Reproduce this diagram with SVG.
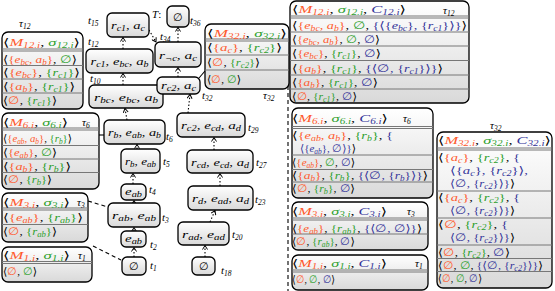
<svg xmlns="http://www.w3.org/2000/svg" width="555" height="291" viewBox="0 0 555 291">
<style>
.t{font-family:"Liberation Serif","DejaVu Serif",serif;font-size:11px;fill:#000}
.i{font-style:italic}
.s{font-size:7.5px;font-style:italic;baseline-shift:-2px}
.o{fill:#ff5a2d}.g{fill:#2ca02c}.b{fill:#333399}
.bx{fill:url(#gf);stroke:#000;stroke-width:1.3}
.nd{fill:url(#gf);stroke:#000;stroke-width:1.3}
.sp{stroke:#777;stroke-width:1}
.c{fill:none;stroke:#000;stroke-width:1.1;stroke-dasharray:1.5 2;marker-end:url(#ah)}
.d{fill:none;stroke:#000;stroke-width:1.1;stroke-dasharray:4 3}
</style>
<defs>
<linearGradient id="gf" x1="0" y1="0" x2="0" y2="1"><stop offset="0" stop-color="#ffffff"/><stop offset="1" stop-color="#d9d9d9"/></linearGradient>
<marker id="ah" markerUnits="userSpaceOnUse" markerWidth="6" markerHeight="6" refX="5" refY="3" orient="auto"><path d="M1,0.5 L5,3 L1,5.5" fill="none" stroke="#000" stroke-width="1"/></marker>
</defs>

<g id="connectors">
<path class="c" d="M134,257 L134,247.5"/>
<path class="c" d="M134,231 L134,227.5"/>
<path class="c" d="M134,203 L134,200.5"/>
<path class="c" d="M133,184 L133,173.5"/>
<path class="c" d="M137,149 L137,144.5"/>
<path class="c" d="M127,120 L125,108.5"/>
<path class="c" d="M123,85 L123,73.5"/>
<path class="c" d="M123,49 L123,37.5"/>
<path class="c" d="M149,30 L156,42"/>
<path class="c" d="M178,42 L178,27.5"/>
<path class="c" d="M178,77 L178,67.5"/>
<path class="c" d="M188,113 L190,94.5"/>
<path class="c" d="M214,150 L214,137.5"/>
<path class="c" d="M220,186 L220,173.5"/>
<path class="c" d="M210,222 L215,210.5"/>
<path class="c" d="M205,257 L205,245.5"/>
<path class="d" d="M88,201 L108,207"/>
<path class="d" d="M93,246 L121,260"/>
<path d="M99,135 L104,135" stroke="#000" stroke-width="1.1"/>
<path d="M205,71 L199,78" stroke="#000" stroke-width="1.1"/>
<path class="d" d="M288,30 L288,291"/>
</g>

<g id="tree">
<g id="n15"><rect class="nd" x="107" y="13" width="42" height="24" rx="5"/><text class="t" x="128" y="29" text-anchor="middle" textLength="34" lengthAdjust="spacingAndGlyphs"><tspan class="i">r<tspan class="s">c1</tspan></tspan>, <tspan class="i">a<tspan class="s">c</tspan></tspan></text><text class="t" x="88" y="24"><tspan class="i">t<tspan class="s">15</tspan></tspan></text></g>
<g id="n12"><rect class="nd" x="86" y="49" width="67" height="24" rx="5"/><text class="t" x="119.5" y="65" text-anchor="middle" textLength="58" lengthAdjust="spacingAndGlyphs"><tspan class="i">r<tspan class="s">c1</tspan></tspan>, <tspan class="i">e<tspan class="s">bc</tspan></tspan>, <tspan class="i">a<tspan class="s">b</tspan></tspan></text><text class="t" x="88" y="45"><tspan class="i">t<tspan class="s">12</tspan></tspan></text></g>
<g id="n10"><rect class="nd" x="89" y="85" width="74" height="23" rx="5"/><text class="t" x="126" y="100.5" text-anchor="middle" textLength="64" lengthAdjust="spacingAndGlyphs"><tspan class="i">r<tspan class="s">bc</tspan></tspan>, <tspan class="i">e<tspan class="s">bc</tspan></tspan>, <tspan class="i">a<tspan class="s">b</tspan></tspan></text><text class="t" x="90" y="82"><tspan class="i">t<tspan class="s">10</tspan></tspan></text></g>
<g id="n6"><rect class="nd" x="104" y="120" width="61" height="24" rx="5"/><text class="t" x="134.5" y="136" text-anchor="middle" textLength="53" lengthAdjust="spacingAndGlyphs"><tspan class="i">r<tspan class="s">b</tspan></tspan>, <tspan class="i">e<tspan class="s">ab</tspan></tspan>, <tspan class="i">a<tspan class="s">b</tspan></tspan></text><text class="t" x="166" y="140"><tspan class="i">t<tspan class="s">6</tspan></tspan></text></g>
<g id="n5"><rect class="nd" x="121" y="149" width="39" height="24" rx="5"/><text class="t" x="140.5" y="165" text-anchor="middle" textLength="31" lengthAdjust="spacingAndGlyphs"><tspan class="i">r<tspan class="s">b</tspan></tspan>, <tspan class="i">e<tspan class="s">ab</tspan></tspan></text><text class="t" x="163" y="165"><tspan class="i">t<tspan class="s">5</tspan></tspan></text></g>
<g id="n4"><rect class="nd" x="121" y="184" width="25" height="16" rx="5"/><text class="t" x="133.5" y="195" text-anchor="middle" textLength="17" lengthAdjust="spacingAndGlyphs"><tspan class="i">e<tspan class="s">ab</tspan></tspan></text><text class="t" x="149" y="193"><tspan class="i">t<tspan class="s">4</tspan></tspan></text></g>
<g id="n3"><rect class="nd" x="108" y="203" width="52" height="24" rx="5"/><text class="t" x="134" y="219" text-anchor="middle" textLength="44" lengthAdjust="spacingAndGlyphs"><tspan class="i">r<tspan class="s">ab</tspan></tspan>, <tspan class="i">e<tspan class="s">ab</tspan></tspan></text><text class="t" x="162" y="221"><tspan class="i">t<tspan class="s">3</tspan></tspan></text></g>
<g id="n2"><rect class="nd" x="121" y="231" width="25" height="16" rx="5"/><text class="t" x="133.5" y="242" text-anchor="middle" textLength="17" lengthAdjust="spacingAndGlyphs"><tspan class="i">e<tspan class="s">ab</tspan></tspan></text><text class="t" x="150" y="248"><tspan class="i">t<tspan class="s">2</tspan></tspan></text></g>
<g id="n1"><rect class="nd" x="122" y="257" width="24" height="18" rx="5"/><text class="t" x="134" y="270" text-anchor="middle">∅</text><text class="t" x="150" y="269"><tspan class="i">t<tspan class="s">1</tspan></tspan></text></g>
<g id="n36"><rect class="nd" x="167" y="6" width="22" height="21" rx="5" stroke-width="2.6"/><text class="t" x="178" y="20.5" text-anchor="middle">∅</text><text class="t" x="152" y="18"><tspan class="i">T</tspan>:</text><text class="t" x="190" y="24"><tspan class="i">t<tspan class="s">36</tspan></tspan></text></g>
<g id="n34"><rect class="nd" x="155" y="42" width="46" height="25" rx="5"/><text class="t" x="178" y="58.5" text-anchor="middle" textLength="38" lengthAdjust="spacingAndGlyphs"><tspan class="i">r<tspan class="s">¬c</tspan></tspan>, <tspan class="i">a<tspan class="s">c</tspan></tspan></text><text class="t" x="160" y="40"><tspan class="i">t<tspan class="s">34</tspan></tspan></text></g>
<g id="n32"><rect class="nd" x="157" y="77" width="43" height="17" rx="5"/><text class="t" x="178.5" y="89" text-anchor="middle" textLength="35" lengthAdjust="spacingAndGlyphs"><tspan class="i">r<tspan class="s">c2</tspan></tspan>, <tspan class="i">a<tspan class="s">c</tspan></tspan></text><text class="t" x="202" y="99"><tspan class="i">t<tspan class="s">32</tspan></tspan></text></g>
<g id="n29"><rect class="nd" x="177" y="113" width="68" height="24" rx="5"/><text class="t" x="211" y="129" text-anchor="middle" textLength="60" lengthAdjust="spacingAndGlyphs"><tspan class="i">r<tspan class="s">c2</tspan></tspan>, <tspan class="i">e<tspan class="s">cd</tspan></tspan>, <tspan class="i">a<tspan class="s">d</tspan></tspan></text><text class="t" x="248" y="131"><tspan class="i">t<tspan class="s">29</tspan></tspan></text></g>
<g id="n27"><rect class="nd" x="187" y="150" width="66" height="23" rx="5"/><text class="t" x="220" y="165.5" text-anchor="middle" textLength="58" lengthAdjust="spacingAndGlyphs"><tspan class="i">r<tspan class="s">cd</tspan></tspan>, <tspan class="i">e<tspan class="s">cd</tspan></tspan>, <tspan class="i">a<tspan class="s">d</tspan></tspan></text><text class="t" x="256" y="166"><tspan class="i">t<tspan class="s">27</tspan></tspan></text></g>
<g id="n23"><rect class="nd" x="188" y="186" width="65" height="24" rx="5"/><text class="t" x="220.5" y="202" text-anchor="middle" textLength="57" lengthAdjust="spacingAndGlyphs"><tspan class="i">r<tspan class="s">d</tspan></tspan>, <tspan class="i">e<tspan class="s">ad</tspan></tspan>, <tspan class="i">a<tspan class="s">d</tspan></tspan></text><text class="t" x="255" y="203"><tspan class="i">t<tspan class="s">23</tspan></tspan></text></g>
<g id="n20"><rect class="nd" x="178" y="222" width="51" height="23" rx="5"/><text class="t" x="203.5" y="237.5" text-anchor="middle" textLength="43" lengthAdjust="spacingAndGlyphs"><tspan class="i">r<tspan class="s">ad</tspan></tspan>, <tspan class="i">e<tspan class="s">ad</tspan></tspan></text><text class="t" x="232" y="238"><tspan class="i">t<tspan class="s">20</tspan></tspan></text></g>
<g id="n18"><rect class="nd" x="192" y="257" width="23" height="18" rx="5"/><text class="t" x="203.5" y="270" text-anchor="middle">∅</text><text class="t" x="221" y="274"><tspan class="i">t<tspan class="s">18</tspan></tspan></text></g>
</g>

<g id="tau12s">
<text class="t" x="19" y="27"><tspan class="i">τ<tspan class="s">12</tspan></tspan></text>
<rect class="bx" x="2" y="32" width="81" height="77" rx="6"/>
<path class="sp" d="M2,49H83M2,51H83M2,65.5H83M2,79H83M2,93H83"/>
<text class="t" x="3" y="45.5" textLength="77" lengthAdjust="spacingAndGlyphs">⟨<tspan class="o i">M<tspan class="s">12.i</tspan></tspan>, <tspan class="g i">σ<tspan class="s">12.i</tspan></tspan>⟩</text>
<text class="t" x="3" y="62.5" textLength="74" lengthAdjust="spacingAndGlyphs">⟨<tspan class="o">{<tspan class="i">e<tspan class="s">bc</tspan></tspan>, <tspan class="i">a<tspan class="s">b</tspan></tspan>}</tspan>, <tspan class="g">∅</tspan>⟩</text>
<text class="t" x="3" y="76" textLength="77" lengthAdjust="spacingAndGlyphs">⟨<tspan class="o">{<tspan class="i">e<tspan class="s">bc</tspan></tspan>}</tspan>, <tspan class="g">{<tspan class="i">r<tspan class="s">c1</tspan></tspan>}</tspan>⟩</text>
<text class="t" x="3" y="89.5" textLength="72" lengthAdjust="spacingAndGlyphs">⟨<tspan class="o">{<tspan class="i">a<tspan class="s">b</tspan></tspan>}</tspan>, <tspan class="g">{<tspan class="i">r<tspan class="s">c1</tspan></tspan>}</tspan>⟩</text>
<text class="t" x="3" y="103.5" textLength="54" lengthAdjust="spacingAndGlyphs">⟨<tspan class="o">∅</tspan>, <tspan class="g">{<tspan class="i">r<tspan class="s">c1</tspan></tspan>}</tspan>⟩</text>
</g>

<g id="tau6s">
<rect class="bx" x="2" y="113" width="97" height="76" rx="6"/>
<path class="sp" d="M2,128H99M2,130H99M2,145.5H99M2,159H99M2,172.5H99"/>
<text class="t" x="3" y="125.5" textLength="65" lengthAdjust="spacingAndGlyphs">⟨<tspan class="o i">M<tspan class="s">6.i</tspan></tspan>, <tspan class="g i">σ<tspan class="s">6.i</tspan></tspan>⟩</text>
<text class="t" x="82" y="125.5"><tspan class="i">τ<tspan class="s">6</tspan></tspan></text>
<text class="t" x="3" y="141.5" textLength="69" lengthAdjust="spacingAndGlyphs">⟨<tspan class="o">{<tspan class="i">e<tspan class="s">ab</tspan></tspan>, <tspan class="i">a<tspan class="s">b</tspan></tspan>}</tspan>, <tspan class="g">{<tspan class="i">r<tspan class="s">b</tspan></tspan>}</tspan>⟩</text>
<text class="t" x="3" y="156" textLength="54" lengthAdjust="spacingAndGlyphs">⟨<tspan class="o">{<tspan class="i">e<tspan class="s">ab</tspan></tspan>}</tspan>, <tspan class="g">∅</tspan>⟩</text>
<text class="t" x="3" y="169.5" textLength="68" lengthAdjust="spacingAndGlyphs">⟨<tspan class="o">{<tspan class="i">a<tspan class="s">b</tspan></tspan>}</tspan>, <tspan class="g">{<tspan class="i">r<tspan class="s">b</tspan></tspan>}</tspan>⟩</text>
<text class="t" x="3" y="183" textLength="49" lengthAdjust="spacingAndGlyphs">⟨<tspan class="o">∅</tspan>, <tspan class="g">{<tspan class="i">r<tspan class="s">b</tspan></tspan>}</tspan>⟩</text>
</g>

<g id="tau3s">
<rect class="bx" x="2" y="193" width="86" height="49" rx="6"/>
<path class="sp" d="M2,208H88M2,210H88M2,224.5H88"/>
<text class="t" x="3" y="205.5" textLength="67" lengthAdjust="spacingAndGlyphs">⟨<tspan class="o i">M<tspan class="s">3.i</tspan></tspan>, <tspan class="g i">σ<tspan class="s">3.i</tspan></tspan>⟩</text>
<text class="t" x="77" y="205.5"><tspan class="i">τ<tspan class="s">3</tspan></tspan></text>
<text class="t" x="3" y="220.5" textLength="80" lengthAdjust="spacingAndGlyphs">⟨<tspan class="o">{<tspan class="i">e<tspan class="s">ab</tspan></tspan>}</tspan>, <tspan class="g">{<tspan class="i">r<tspan class="s">ab</tspan></tspan>}</tspan>⟩</text>
<text class="t" x="3" y="235" textLength="54" lengthAdjust="spacingAndGlyphs">⟨<tspan class="o">∅</tspan>, <tspan class="g">{<tspan class="i">r<tspan class="s">ab</tspan></tspan>}</tspan>⟩</text>
</g>

<g id="tau1s">
<rect class="bx" x="2" y="247" width="90" height="35" rx="6"/>
<path class="sp" d="M2,261.5H92M2,263.5H92"/>
<text class="t" x="3" y="258.5" textLength="67" lengthAdjust="spacingAndGlyphs">⟨<tspan class="o i">M<tspan class="s">1.i</tspan></tspan>, <tspan class="g i">σ<tspan class="s">1.i</tspan></tspan>⟩</text>
<text class="t" x="78" y="258.5"><tspan class="i">τ<tspan class="s">1</tspan></tspan></text>
<text class="t" x="3" y="275">⟨<tspan class="o">∅</tspan>, <tspan class="g">∅</tspan>⟩</text>
</g>

<g id="tau32s">
<rect class="bx" x="205" y="24" width="84" height="65" rx="6"/>
<path class="sp" d="M205,39H289M205,41H289M205,55H289M205,70H289"/>
<text class="t" x="207" y="36.5" textLength="80" lengthAdjust="spacingAndGlyphs">⟨<tspan class="o i">M<tspan class="s">32.i</tspan></tspan>, <tspan class="g i">σ<tspan class="s">32.i</tspan></tspan>⟩</text>
<text class="t" x="207" y="51" textLength="75" lengthAdjust="spacingAndGlyphs">⟨<tspan class="o">{<tspan class="i">a<tspan class="s">c</tspan></tspan>}</tspan>, <tspan class="g">{<tspan class="i">r<tspan class="s">c2</tspan></tspan>}</tspan>⟩</text>
<text class="t" x="207" y="65.5" textLength="53" lengthAdjust="spacingAndGlyphs">⟨<tspan class="o">∅</tspan>, <tspan class="g">{<tspan class="i">r<tspan class="s">c2</tspan></tspan>}</tspan>⟩</text>
<text class="t" x="207" y="82.5">⟨<tspan class="o">∅</tspan>, <tspan class="g">∅</tspan>⟩</text>
<text class="t" x="263" y="99"><tspan class="i">τ<tspan class="s">32</tspan></tspan></text>
</g>

<g id="tau12b">
<rect class="bx" x="290" y="1" width="179" height="102" rx="6"/>
<path class="sp" d="M290,16H469M290,18H469M290,32H469M290,46H469M290,60.5H469M290,75H469M290,89H469"/>
<text class="t" x="292" y="12.5" textLength="114" lengthAdjust="spacingAndGlyphs">⟨<tspan class="o i">M<tspan class="s">12.i</tspan></tspan>, <tspan class="g i">σ<tspan class="s">12.i</tspan></tspan>, <tspan class="b i">C<tspan class="s">12.i</tspan></tspan>⟩</text>
<text class="t" x="443" y="14"><tspan class="i">τ<tspan class="s">12</tspan></tspan></text>
<text class="t" x="292" y="28.5" textLength="175" lengthAdjust="spacingAndGlyphs">⟨<tspan class="o">{<tspan class="i">e<tspan class="s">bc</tspan></tspan>, <tspan class="i">a<tspan class="s">b</tspan></tspan>}</tspan>, <tspan class="g">∅</tspan>, <tspan class="b">{⟨{<tspan class="i">e<tspan class="s">bc</tspan></tspan>}, {<tspan class="i">r<tspan class="s">c1</tspan></tspan>}⟩}</tspan>⟩</text>
<text class="t" x="292" y="42.5" textLength="88" lengthAdjust="spacingAndGlyphs">⟨<tspan class="o">{<tspan class="i">e<tspan class="s">bc</tspan></tspan>, <tspan class="i">a<tspan class="s">b</tspan></tspan>}</tspan>, <tspan class="g">∅</tspan>, <tspan class="b">∅</tspan>⟩</text>
<text class="t" x="292" y="56.5" textLength="89" lengthAdjust="spacingAndGlyphs">⟨<tspan class="o">{<tspan class="i">e<tspan class="s">bc</tspan></tspan>}</tspan>, <tspan class="g">{<tspan class="i">r<tspan class="s">c1</tspan></tspan>}</tspan>, <tspan class="b">∅</tspan>⟩</text>
<text class="t" x="292" y="71.5" textLength="151" lengthAdjust="spacingAndGlyphs">⟨<tspan class="o">{<tspan class="i">a<tspan class="s">b</tspan></tspan>}</tspan>, <tspan class="g">{<tspan class="i">r<tspan class="s">c1</tspan></tspan>}</tspan>, <tspan class="b">{⟨∅, {<tspan class="i">r<tspan class="s">c1</tspan></tspan>}⟩}</tspan>⟩</text>
<text class="t" x="292" y="85.5" textLength="86" lengthAdjust="spacingAndGlyphs">⟨<tspan class="o">{<tspan class="i">a<tspan class="s">b</tspan></tspan>}</tspan>, <tspan class="g">{<tspan class="i">r<tspan class="s">c1</tspan></tspan>}</tspan>, <tspan class="b">∅</tspan>⟩</text>
<text class="t" x="292" y="99.5" textLength="65" lengthAdjust="spacingAndGlyphs">⟨<tspan class="o">∅</tspan>, <tspan class="g">{<tspan class="i">r<tspan class="s">c1</tspan></tspan>}</tspan>, <tspan class="b">∅</tspan>⟩</text>
</g>

<g id="tau6b">
<rect class="bx" x="292" y="108" width="141" height="90" rx="6"/>
<path class="sp" d="M292,126.5H433M292,128.5H433M292,155H433M292,169.5H433M292,182H433"/>
<text class="t" x="292" y="121.5" textLength="96" lengthAdjust="spacingAndGlyphs">⟨<tspan class="o i">M<tspan class="s">6.i</tspan></tspan>, <tspan class="g i">σ<tspan class="s">6.i</tspan></tspan>, <tspan class="b i">C<tspan class="s">6.i</tspan></tspan>⟩</text>
<text class="t" x="403" y="121.5"><tspan class="i">τ<tspan class="s">6</tspan></tspan></text>
<text class="t" x="292" y="138.5" textLength="101" lengthAdjust="spacingAndGlyphs">⟨<tspan class="o">{<tspan class="i">e<tspan class="s">ab</tspan></tspan>, <tspan class="i">a<tspan class="s">b</tspan></tspan>}</tspan>, <tspan class="g">{<tspan class="i">r<tspan class="s">b</tspan></tspan>}</tspan>, <tspan class="b">{</tspan></text>
<text class="t" x="300" y="151.5" textLength="56" lengthAdjust="spacingAndGlyphs"><tspan class="b">⟨{<tspan class="i">e<tspan class="s">ab</tspan></tspan>}, ∅⟩}</tspan>⟩</text>
<text class="t" x="292" y="165.5" textLength="63" lengthAdjust="spacingAndGlyphs">⟨<tspan class="o">{<tspan class="i">e<tspan class="s">ab</tspan></tspan>}</tspan>, <tspan class="g">∅</tspan>, <tspan class="b">∅</tspan>⟩</text>
<text class="t" x="292" y="179" textLength="136" lengthAdjust="spacingAndGlyphs">⟨<tspan class="o">{<tspan class="i">a<tspan class="s">b</tspan></tspan>}</tspan>, <tspan class="g">{<tspan class="i">r<tspan class="s">b</tspan></tspan>}</tspan>, <tspan class="b">{⟨∅, {<tspan class="i">r<tspan class="s">b</tspan></tspan>}⟩}</tspan>⟩</text>
<text class="t" x="292" y="192" textLength="63" lengthAdjust="spacingAndGlyphs">⟨<tspan class="o">∅</tspan>, <tspan class="g">{<tspan class="i">r<tspan class="s">b</tspan></tspan>}</tspan>, <tspan class="b">∅</tspan>⟩</text>
</g>

<g id="tau3b">
<rect class="bx" x="292" y="202" width="136" height="48" rx="6"/>
<path class="sp" d="M292,218H428M292,220H428M292,234H428"/>
<text class="t" x="292" y="214.5" textLength="95" lengthAdjust="spacingAndGlyphs">⟨<tspan class="o i">M<tspan class="s">3.i</tspan></tspan>, <tspan class="g i">σ<tspan class="s">3.i</tspan></tspan>, <tspan class="b i">C<tspan class="s">3.i</tspan></tspan>⟩</text>
<text class="t" x="407" y="214.5"><tspan class="i">τ<tspan class="s">3</tspan></tspan></text>
<text class="t" x="292" y="231.5" textLength="130" lengthAdjust="spacingAndGlyphs">⟨<tspan class="o">{<tspan class="i">e<tspan class="s">ab</tspan></tspan>}</tspan>, <tspan class="g">{<tspan class="i">r<tspan class="s">ab</tspan></tspan>}</tspan>, <tspan class="b">{⟨∅, ∅⟩}</tspan>⟩</text>
<text class="t" x="292" y="245" textLength="63" lengthAdjust="spacingAndGlyphs">⟨<tspan class="o">∅</tspan>, <tspan class="g">{<tspan class="i">r<tspan class="s">ab</tspan></tspan>}</tspan>, <tspan class="b">∅</tspan>⟩</text>
</g>

<g id="tau1b">
<rect class="bx" x="292" y="255" width="136" height="35" rx="6"/>
<path class="sp" d="M292,270H428M292,272H428"/>
<text class="t" x="292" y="266.5" textLength="95" lengthAdjust="spacingAndGlyphs">⟨<tspan class="o i">M<tspan class="s">1.i</tspan></tspan>, <tspan class="g i">σ<tspan class="s">1.i</tspan></tspan>, <tspan class="b i">C<tspan class="s">1.i</tspan></tspan>⟩</text>
<text class="t" x="415" y="266.5"><tspan class="i">τ<tspan class="s">1</tspan></tspan></text>
<text class="t" x="292" y="283" textLength="43" lengthAdjust="spacingAndGlyphs">⟨<tspan class="o">∅</tspan>, <tspan class="g">∅</tspan>, <tspan class="b">∅</tspan>⟩</text>
</g>

<g id="tau32b">
<text class="t" x="490" y="129"><tspan class="i">τ<tspan class="s">32</tspan></tspan></text>
<rect class="bx" x="437" y="132" width="115" height="156" rx="6"/>
<path class="sp" d="M437,148H552M437,150H552M437,191H552M437,218H552M437,245H552M437,258.5H552M437,271.5H552"/>
<text class="t" x="438" y="143.5" textLength="113" lengthAdjust="spacingAndGlyphs">⟨<tspan class="o i">M<tspan class="s">32.i</tspan></tspan>, <tspan class="g i">σ<tspan class="s">32.i</tspan></tspan>, <tspan class="b i">C<tspan class="s">32.i</tspan></tspan>⟩</text>
<text class="t" x="438" y="161" textLength="82" lengthAdjust="spacingAndGlyphs">⟨<tspan class="o">{<tspan class="i">a<tspan class="s">c</tspan></tspan>}</tspan>, <tspan class="g">{<tspan class="i">r<tspan class="s">c2</tspan></tspan>}</tspan>, <tspan class="b">{</tspan></text>
<text class="t" x="450" y="174" textLength="78" lengthAdjust="spacingAndGlyphs"><tspan class="b">⟨{<tspan class="i">a<tspan class="s">c</tspan></tspan>}, {<tspan class="i">r<tspan class="s">c2</tspan></tspan>}⟩,</tspan></text>
<text class="t" x="450" y="187" textLength="65" lengthAdjust="spacingAndGlyphs"><tspan class="b">⟨∅, {<tspan class="i">r<tspan class="s">c2</tspan></tspan>}⟩}</tspan>⟩</text>
<text class="t" x="438" y="201" textLength="82" lengthAdjust="spacingAndGlyphs">⟨<tspan class="o">{<tspan class="i">a<tspan class="s">c</tspan></tspan>}</tspan>, <tspan class="g">{<tspan class="i">r<tspan class="s">c2</tspan></tspan>}</tspan>, <tspan class="b">{</tspan></text>
<text class="t" x="450" y="214" textLength="65" lengthAdjust="spacingAndGlyphs"><tspan class="b">⟨∅, {<tspan class="i">r<tspan class="s">c2</tspan></tspan>}⟩}</tspan>⟩</text>
<text class="t" x="438" y="228" textLength="70" lengthAdjust="spacingAndGlyphs">⟨<tspan class="o">∅</tspan>, <tspan class="g">{<tspan class="i">r<tspan class="s">c2</tspan></tspan>}</tspan>, <tspan class="b">{</tspan></text>
<text class="t" x="450" y="241" textLength="65" lengthAdjust="spacingAndGlyphs"><tspan class="b">⟨∅, {<tspan class="i">r<tspan class="s">c2</tspan></tspan>}⟩}</tspan>⟩</text>
<text class="t" x="438" y="255.5" textLength="72" lengthAdjust="spacingAndGlyphs">⟨<tspan class="o">∅</tspan>, <tspan class="g">{<tspan class="i">r<tspan class="s">c2</tspan></tspan>}</tspan>, <tspan class="b">∅</tspan>⟩</text>
<text class="t" x="438" y="268.5" textLength="105" lengthAdjust="spacingAndGlyphs">⟨<tspan class="o">∅</tspan>, <tspan class="g">∅</tspan>, <tspan class="b">{⟨∅, {<tspan class="i">r<tspan class="s">c2</tspan></tspan>}⟩}</tspan>⟩</text>
<text class="t" x="438" y="282" textLength="44" lengthAdjust="spacingAndGlyphs">⟨<tspan class="o">∅</tspan>, <tspan class="g">∅</tspan>, <tspan class="b">∅</tspan>⟩</text>
</g>
</svg>
